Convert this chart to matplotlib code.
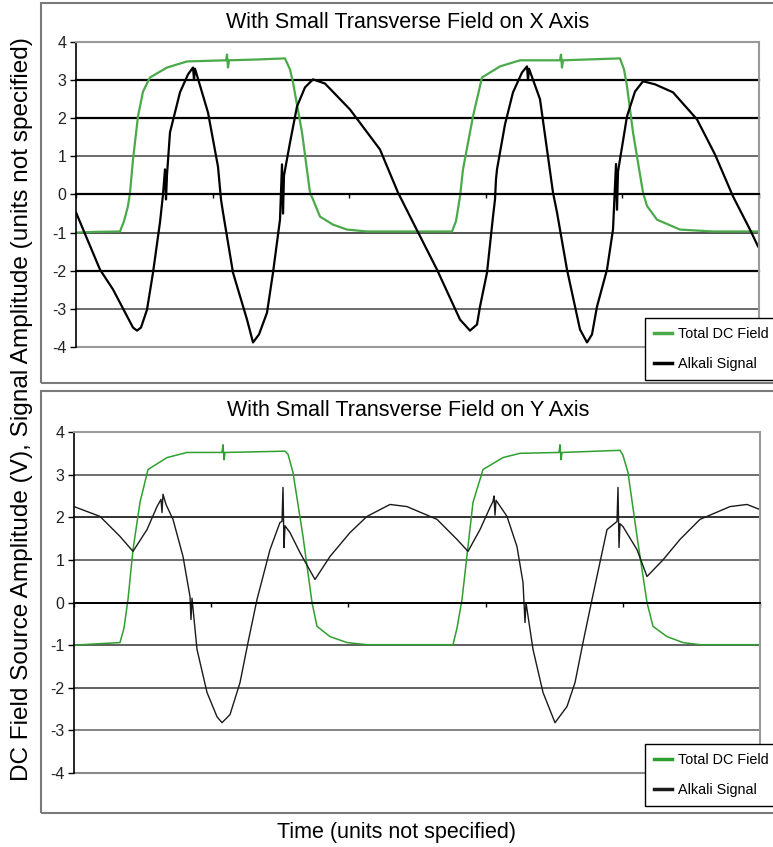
import numpy as np
import matplotlib.pyplot as plt
from matplotlib.patches import Rectangle

plt.rcParams["font.family"] = ["Liberation Sans", "DejaVu Sans"]

W, H = 773, 847

# transverse field on X: total DC field and alkali signal (time in samples)
x_field_t = [0, 20, 44, 48, 52, 54, 57, 62, 67, 74, 91, 111, 150, 151, 152, 153,
             180, 209, 214, 217, 226, 234, 237, 244, 257, 271, 291, 376, 380,
             384, 387, 397, 406, 424, 444, 484, 485, 486, 487, 544, 548, 551,
             557, 567, 571, 581, 604, 637, 683]
x_field_v = [-1.00, -0.98, -0.97, -0.70, -0.30, 0.05, 0.92, 2.05, 2.70, 3.07,
             3.33, 3.49, 3.52, 3.67, 3.33, 3.52, 3.54, 3.57, 3.28, 2.94, 1.63,
             0.05, -0.13, -0.58, -0.79, -0.92, -0.97, -0.97, -0.70, -0.05, 0.66,
             2.05, 3.07, 3.36, 3.52, 3.52, 3.67, 3.33, 3.52, 3.57, 3.28, 2.84,
             1.63, 0.05, -0.30, -0.66, -0.92, -0.97, -0.97]

x_signal_t = [0, 24, 37, 57, 61, 65, 71, 77, 84, 87, 89, 90, 91, 94, 104, 112,
              117, 118, 119, 132, 142, 145, 147, 157, 171, 177, 183, 191, 197,
              204, 206, 207, 208, 214, 221, 229, 237, 249, 274, 304, 322, 337,
              361, 384, 394, 401, 404, 411, 417, 419, 420, 421, 429, 437, 446,
              451, 452, 453, 464, 477, 481, 491, 504, 511, 516, 521, 531, 537,
              540, 541, 542, 544, 551, 559, 567, 579, 597, 621, 639, 657, 674,
              682]
x_signal_v = [-0.47, -1.97, -2.49, -3.49, -3.57, -3.49, -3.02, -2.05, -0.73,
              0.00, 0.66, -0.13, 0.52, 1.63, 2.68, 3.15, 3.33, 3.02, 3.30, 2.15,
              0.73, -0.13, -0.47, -2.05, -3.28, -3.88, -3.67, -3.10, -2.05,
              -0.66, 0.79, -0.50, 0.50, 1.36, 2.31, 2.81, 3.02, 2.91, 2.23, 1.18,
              0.05, -0.73, -1.97, -3.28, -3.57, -3.41, -2.94, -2.05, -0.58,
              -0.13, 0.40, 0.66, 1.84, 2.68, 3.20, 3.36, 3.00, 3.30, 2.50, 0.05,
              -0.47, -1.97, -3.54, -3.88, -3.67, -2.94, -1.97, -0.92, 0.80,
              -0.40, 0.60, 0.92, 2.05, 2.70, 2.97, 2.89, 2.68, 1.97, 1.05, -0.05,
              -0.92, -1.36]

# transverse field on Y
y_field_t = [0, 46, 50, 54, 59, 66, 74, 93, 113, 148, 149, 150, 151, 211, 214,
             219, 229, 238, 243, 256, 273, 293, 379, 383, 388, 399, 409, 429,
             446, 485, 486, 487, 488, 546, 549, 554, 563, 573, 579, 593, 609,
             626, 686]
y_field_v = [-1.00, -0.94, -0.60, 0.07, 1.24, 2.35, 3.12, 3.40, 3.52, 3.52,
             3.70, 3.35, 3.52, 3.55, 3.48, 3.05, 1.55, 0.00, -0.56, -0.80, -0.94,
             -0.99, -0.99, -0.60, 0.07, 2.35, 3.12, 3.40, 3.50, 3.52, 3.70, 3.35,
             3.52, 3.57, 3.45, 3.05, 1.55, 0.00, -0.56, -0.80, -0.94, -0.99,
             -0.99]

y_signal_t = [0, 26, 46, 59, 73, 83, 87, 88, 89, 92, 99, 109, 116, 117, 118,
              123, 133, 143, 148, 156, 166, 174, 183, 196, 206, 208, 209, 210,
              211, 216, 226, 241, 256, 276, 293, 316, 333, 363, 383, 394, 406,
              416, 419, 420, 421, 422, 433, 443, 449, 451, 452, 459, 469, 481,
              493, 501, 509, 518, 533, 543, 544, 545, 546, 549, 563, 573, 589,
              606, 626, 656, 673, 686]
y_signal_v = [2.25, 2.02, 1.55, 1.20, 1.71, 2.25, 2.42, 2.11, 2.54, 2.30, 1.95,
              1.08, 0.14, -0.40, 0.10, -1.10, -2.11, -2.68, -2.82, -2.63, -1.88,
              -0.94, 0.07, 1.24, 1.88, 1.90, 2.70, 1.29, 1.80, 1.64, 1.17, 0.54,
              1.08, 1.64, 2.02, 2.30, 2.25, 1.95, 1.48, 1.20, 1.71, 2.23, 2.37,
              2.50, 2.05, 2.40, 2.02, 1.31, 0.47, -0.47, 0.00, -1.10, -2.11,
              -2.82, -2.44, -1.88, -0.94, 0.07, 1.71, 1.90, 2.70, 1.29, 1.85,
              1.78, 1.24, 0.61, 1.00, 1.48, 1.95, 2.25, 2.30, 2.18]

y_ticks = [-4, -3, -2, -1, 0, 1, 2, 3, 4]


def fig_rect(left, top, right, bottom):
    return [left / W, 1 - bottom / H, (right - left) / W, (bottom - top) / H]


def draw_panel(fig, rect, title, title_y, legend_top, xmax,
               field_t, field_v, sig_t, sig_v, field_kw, sig_kw, grid_style):
    ax = fig.add_axes(rect)
    ax.set_xlim(0, xmax)
    ax.set_ylim(-4, 4)
    ax.set_yticks(y_ticks)
    ax.set_yticklabels([str(v) for v in y_ticks])
    ax.set_axisbelow(True)
    ax.grid(axis="y")
    for val, gl in zip(y_ticks, ax.yaxis.get_gridlines()):
        color, lw = grid_style[val]
        gl.set_color(color)
        gl.set_linewidth(lw)
        gl.set_clip_on(False)

    f_line, = ax.plot(field_t, field_v, label="Total DC Field", **field_kw)
    s_line, = ax.plot(sig_t, sig_v, label="Alkali Signal", **sig_kw)

    # category axis crosses at zero
    ax.spines["bottom"].set_position(("data", 0))
    ax.spines["bottom"].set_color("black")
    ax.spines["bottom"].set_linewidth(1.4)
    ax.set_xticks(np.linspace(0, xmax, 6))
    ax.tick_params(axis="x", direction="out", length=3, width=1,
                   labelbottom=False)
    ax.spines["left"].set_color("black")
    ax.spines["left"].set_linewidth(1.2)
    for side in ("top", "right"):
        ax.spines[side].set_color("#9a9a9a")
        ax.spines[side].set_linewidth(1.5)
    ax.tick_params(axis="y", direction="out", length=4, width=1, pad=3,
                   labelsize=11.5, labelcolor="#222222")

    fig.text(408 / W, 1 - title_y / H, title, ha="center", va="center",
             fontsize=15.5)

    leg = ax.legend(handles=[f_line, s_line], loc="upper left",
                    bbox_to_anchor=(645 / W, 1 - legend_top / H),
                    bbox_transform=fig.transFigure, fontsize=10.4,
                    frameon=True, fancybox=False, framealpha=1,
                    edgecolor="black", handlelength=1.3, handletextpad=0.4,
                    labelspacing=1.15, borderpad=0.6, borderaxespad=0)
    leg.get_frame().set_linewidth(1.0)
    for ln in leg.get_lines():
        ln.set_linewidth(2.5)
    return ax


fig = plt.figure(figsize=(W / 100, H / 100), dpi=100)

# chart area borders
for top, bottom in ((3, 383), (391, 813)):
    fig.add_artist(Rectangle((41 / W, 1 - bottom / H), (820 - 41) / W,
                             (bottom - top) / H, transform=fig.transFigure,
                             fill=False, edgecolor="#7a7a7a", linewidth=1.5))

top_grid = {4: ("#9a9a9a", 1.2), 3: ("black", 1.6), 2: ("black", 1.6),
            1: ("#444444", 1.1), 0: ("black", 1.6), -1: ("#333333", 1.2),
            -2: ("black", 1.6), -3: ("#444444", 1.1), -4: ("#9a9a9a", 1.5)}
bottom_grid = {4: ("#9a9a9a", 1.2), 3: ("#555555", 1.2), 2: ("#222222", 1.3),
               1: ("#555555", 1.2), 0: ("#333333", 1.3), -1: ("#444444", 1.2),
               -2: ("#555555", 1.3), -3: ("#7a7a7a", 1.3), -4: ("#8a8a8a", 1.5)}

draw_panel(fig, fig_rect(76, 42, 759, 347),
           "With Small Transverse Field on X Axis", 23, 318, 683,
           x_field_t, x_field_v, x_signal_t, x_signal_v,
           dict(color="#4aaa4a", lw=1.6), dict(color="black", lw=1.6),
           top_grid)

draw_panel(fig, fig_rect(74, 432, 760, 773),
           "With Small Transverse Field on Y Axis", 410, 744, 686,
           y_field_t, y_field_v, y_signal_t, y_signal_v,
           dict(color="#2f9f2f", lw=1.1), dict(color="#1a1a1a", lw=1.0),
           bottom_grid)

fig.text(22 / W, 1 - 409 / H,
         "DC Field Source Amplitude (V), Signal Amplitude (units not specified)",
         rotation=90, ha="center", va="center", fontsize=17.6)
fig.text(397 / W, 1 - 832 / H, "Time (units not specified)",
         ha="center", va="center", fontsize=15.5)

fig.savefig("out.png", dpi=100)
